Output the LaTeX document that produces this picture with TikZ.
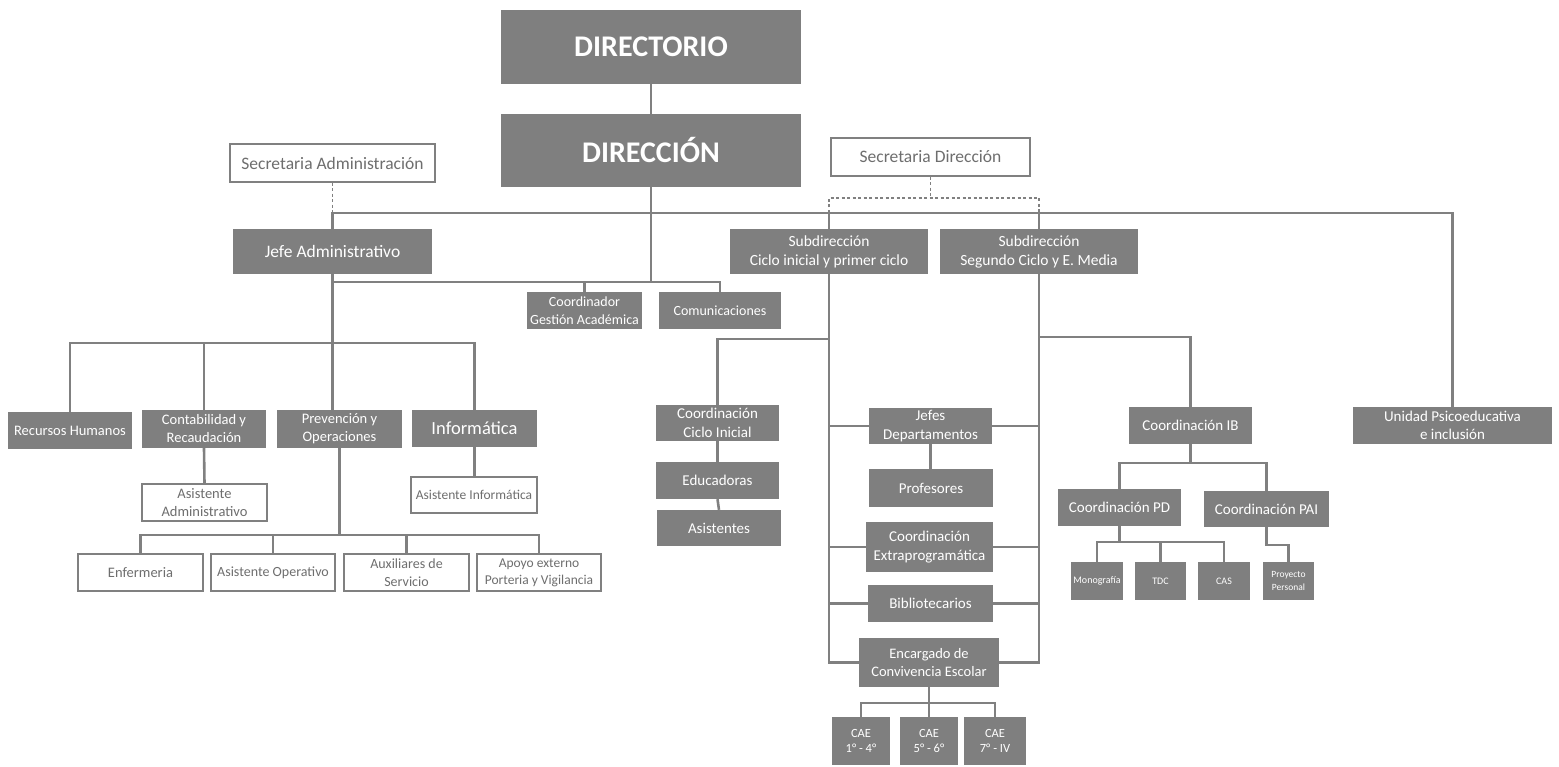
\documentclass[tikz,border=0pt]{standalone}
\usepackage{fontspec}
\setmainfont{Carlito}
\definecolor{boxgray}{HTML}{7F7F7F}
\definecolor{linegray}{HTML}{808080}
\definecolor{txtgray}{HTML}{6E6E6E}
\pgfdeclarelayer{bg}
\pgfsetlayers{bg,main}
\tikzset{
  gbox/.style={fill=boxgray, draw=none, text=white, align=center, inner sep=0pt, font=#1},
  wbox/.style={fill=white, draw=linegray, line width=1.3pt, text=txtgray, align=center, inner sep=0pt, font=#1},
  conn/.style={draw=linegray, line width=2.6pt},
  dconn/.style={draw=linegray, line width=1.1pt, dash pattern=on 3pt off 2.5pt},
}
\newcommand\orgbox[7]{%
  \node[#1, minimum width={(#5-#3)*1pt}, minimum height={(#6-#4)*1pt}] (#2) at ({(#3+#5)/2},{(#4+#6)/2}) {#7};}
\begin{document}
\begin{tikzpicture}[x=1pt,y=-1pt]
\useasboundingbox (0,0) rectangle (1559,767);
% top
\orgbox{gbox={\fontsize{30}{34}\selectfont\bfseries}}{dtorio}{501}{10}{801}{84}{DIRECTORIO}
\orgbox{gbox={\fontsize{30}{34}\selectfont\bfseries}}{dcion}{501}{114}{801}{187}{DIRECCIÓN}
\orgbox{wbox={\fontsize{17.5}{20}\selectfont}}{secA}{230}{144}{435}{182}{Secretaria Administración}
\orgbox{wbox={\fontsize{17.5}{20}\selectfont}}{secD}{831}{138}{1030}{176}{Secretaria Dirección}
\orgbox{gbox={\fontsize{17.5}{20}\selectfont}}{jefe}{233}{229}{432}{274}{Jefe Administrativo}
\orgbox{gbox={\fontsize{15.5}{19}\selectfont}}{sub1}{730}{229}{928}{274}{Subdirección\\Ciclo inicial y primer ciclo}
\orgbox{gbox={\fontsize{15.5}{19}\selectfont}}{sub2}{940}{229}{1138}{274}{Subdirección\\Segundo Ciclo y E. Media}
\orgbox{gbox={\fontsize{14}{18}\selectfont}}{cga}{527}{292}{642}{329}{Coordinador\\Gestión Académica}
\orgbox{gbox={\fontsize{14}{18}\selectfont}}{com}{659}{292}{781}{329}{Comunicaciones}
% admin branch
\orgbox{gbox={\fontsize{14.5}{18}\selectfont}}{rrhh}{8}{412}{132}{449}{Recursos Humanos}
\orgbox{gbox={\fontsize{14.5}{18}\selectfont}}{cont}{142}{410}{266}{448}{Contabilidad y\\Recaudación}
\orgbox{gbox={\fontsize{14.5}{18}\selectfont}}{prev}{277}{410}{402}{448}{Prevención y\\Operaciones}
\orgbox{gbox={\fontsize{18.5}{21}\selectfont}}{inf}{412}{410}{537}{447}{Informática}
\orgbox{wbox={\fontsize{14.5}{18.5}\selectfont}}{asad}{142}{484}{267}{521}{Asistente\\Administrativo}
\orgbox{wbox={\fontsize{13.5}{17}\selectfont}}{asinf}{411}{477}{537}{513}{Asistente Informática}
\orgbox{wbox={\fontsize{14.5}{18}\selectfont}}{enf}{78}{554}{203}{591}{Enfermeria}
\orgbox{wbox={\fontsize{14}{18}\selectfont}}{asop}{211}{554}{335}{591}{Asistente Operativo}
\orgbox{wbox={\fontsize{14}{18}\selectfont}}{aux}{344}{554}{469}{591}{Auxiliares de\\Servicio}
\orgbox{wbox={\fontsize{13.5}{17}\selectfont}}{apoyo}{477}{554}{601}{591}{Apoyo externo\\Porteria y Vigilancia}
% first cycle branch
\orgbox{gbox={\fontsize{15}{18.5}\selectfont}}{cci}{656}{405}{779}{441}{Coordinación\\Ciclo Inicial}
\orgbox{gbox={\fontsize{15}{18.5}\selectfont}}{edu}{656}{462}{779}{499}{Educadoras}
\orgbox{gbox={\fontsize{15}{18.5}\selectfont}}{asis}{657}{510}{781}{546}{Asistentes}
\orgbox{gbox={\fontsize{15}{18.5}\selectfont}}{jd}{869}{408}{992}{444}{Jefes\\Departamentos}
\orgbox{gbox={\fontsize{15}{18.5}\selectfont}}{prof}{869}{469}{993}{507}{Profesores}
\orgbox{gbox={\fontsize{15}{18.5}\selectfont}}{cext}{866}{522}{993}{572}{Coordinación\\Extraprogramática}
\orgbox{gbox={\fontsize{15}{18.5}\selectfont}}{bib}{868}{585}{993}{622}{Bibliotecarios}
\orgbox{gbox={\fontsize{14.5}{18.5}\selectfont}}{enc}{859}{638}{999}{687}{Encargado de\\Convivencia Escolar}
\orgbox{gbox={\fontsize{12.5}{15.5}\selectfont}}{cae1}{832}{717}{890}{765}{CAE\\1° - 4°}
\orgbox{gbox={\fontsize{12.5}{15.5}\selectfont}}{cae2}{900}{717}{958}{765}{CAE\\5° - 6°}
\orgbox{gbox={\fontsize{12.5}{15.5}\selectfont}}{cae3}{964}{717}{1026}{765}{CAE\\7° - IV}
% IB branch
\orgbox{gbox={\fontsize{15}{18.5}\selectfont}}{cib}{1129}{407}{1252}{444}{Coordinación IB}
\orgbox{gbox={\fontsize{15}{18.5}\selectfont}}{cpd}{1058}{489}{1181}{526}{Coordinación PD}
\orgbox{gbox={\fontsize{15}{18.5}\selectfont}}{cpai}{1204}{491}{1329}{527}{Coordinación PAI}
\orgbox{gbox={\fontsize{10}{12}\selectfont}}{mono}{1071}{562}{1123}{600}{Monografía}
\orgbox{gbox={\fontsize{10}{12}\selectfont}}{tdc}{1135}{562}{1186}{600}{TDC}
\orgbox{gbox={\fontsize{10}{12}\selectfont}}{cas}{1198}{562}{1250}{600}{CAS}
\orgbox{gbox={\fontsize{9.5}{13}\selectfont}}{pp}{1263}{562}{1314}{600}{Proyecto\\Personal}
\orgbox{gbox={\fontsize{15}{18.5}\selectfont}}{upsi}{1353}{407}{1552}{444}{Unidad Psicoeducativa\\e inclusión}

\begin{pgfonlayer}{bg}
% top spine
\draw[conn] (dtorio.south) -- (dcion.north);
\draw[conn] (dcion.south) -- (dcion.south |- 0,282);
\draw[conn] (jefe.north) -- (jefe.north |- 0,213) -- (upsi.north |- 0,213) -- (upsi.north);
\draw[conn] (sub1.north) -- (sub1.north |- 0,213);
\draw[conn] (sub2.north) -- (sub2.north |- 0,213);
% secretaries
\draw[dconn] (secA.south) -- (secA.south |- 0,213);
\draw[dconn] (secD.south) -- (secD.south |- 0,198);
\draw[dconn] (sub1.north |- 0,213) -- (sub1.north |- 0,198) -- (sub2.north |- 0,198) -- (sub2.north |- 0,213);
% staff of direction
\draw[conn] (jefe.south |- 0,282) -| (com.north);
\draw[conn] (cga.north) -- (cga.north |- 0,282);
% admin branch
\draw[conn] (jefe.south) -- (jefe.south |- prev.north);
\draw[conn] (rrhh.north) |- (inf.north |- 0,343) -- (inf.north);
\draw[conn] (cont.north) -- (cont.north |- 0,343);
\draw[conn] (cont.south) -- (asad.north);
\draw[conn] (inf.south) -- (inf.south |- asinf.north);
\draw[conn] (prev.south) -- (prev.south |- 0,535);
\draw[conn] (enf.north) |- (apoyo.north |- 0,535) -- (apoyo.north);
\draw[conn] (asop.north) -- (asop.north |- 0,535);
\draw[conn] (aux.north) -- (aux.north |- 0,535);
% first cycle
\draw[conn] (sub1.south) |- (enc.west);
\draw[conn] (cci.north) |- (sub1.south |- 0,339);
\draw[conn] (cci.south) -- (edu.north);
\draw[conn] (edu.south) -- (asis.north);
\draw[conn] (jd.west) -- (jd.west -| sub1.south);
\draw[conn] (cext.west) -- (cext.west -| sub1.south);
\draw[conn] (bib.west) -- (bib.west -| sub1.south);
\draw[conn] (jd.south) -- (jd.south |- prof.north);
% second cycle
\draw[conn] (sub2.south) |- (enc.east);
\draw[conn] (jd.east) -- (jd.east -| sub2.south);
\draw[conn] (cext.east) -- (cext.east -| sub2.south);
\draw[conn] (bib.east) -- (bib.east -| sub2.south);
\draw[conn] (sub2.south |- 0,337) -| (cib.north);
% convivencia
\draw[conn] (enc.south) -- (enc.south |- 0,703);
\draw[conn] (cae1.north) |- (cae3.north |- 0,703) -- (cae3.north);
\draw[conn] (cae2.north) -- (cae2.north |- 0,703);
% IB
\draw[conn] (cib.south) -- (cib.south |- 0,463);
\draw[conn] (cpd.north) |- (cpai.north |- 0,463) -- (cpai.north);
\draw[conn] (cpd.south) -- (cpd.south |- 0,542);
\draw[conn] (mono.north) |- (cas.north |- 0,542) -- (cas.north);
\draw[conn] (tdc.north) -- (tdc.north |- 0,542);
\draw[conn] (cpai.south) -- (cpai.south |- 0,545) -| (pp.north);
\end{pgfonlayer}
\end{tikzpicture}
\end{document}
